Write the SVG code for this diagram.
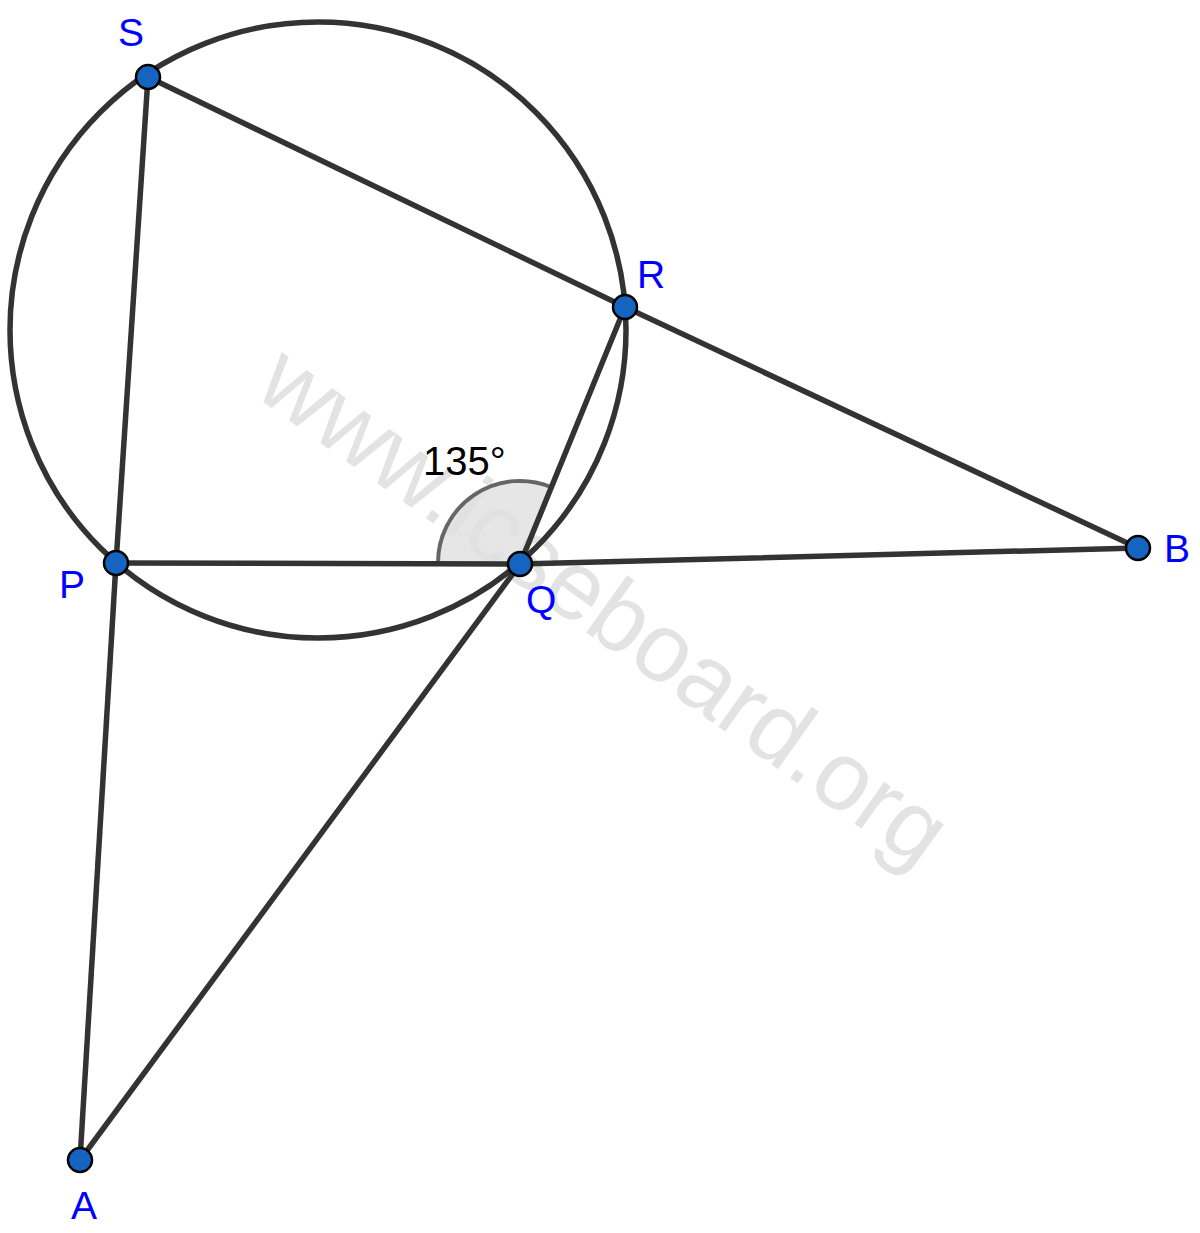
<svg xmlns="http://www.w3.org/2000/svg" width="1200" height="1233" viewBox="0 0 1200 1233">
<style>
.ln{stroke:#333;stroke-width:5.5;fill:none;stroke-linecap:round}
.pt{fill:#1565c0;stroke:#000;stroke-width:2.5}
.lb{font-family:"Liberation Sans",Arial,sans-serif;font-size:39px;fill:#0000ff}
.wm{font-family:"Liberation Sans",Arial,sans-serif;font-size:97px;fill:#e3e3e3}
</style>
<rect width="1200" height="1233" fill="#fff"/>
<text class="wm" transform="translate(252,394) rotate(35.5)">www.icseboard.org</text>
<g id="angle">
<path d="M520,563 L438,563 A82,82 0 0 1 551,487 Z" fill="#e0e0e0" fill-opacity="0.8" stroke="none"/>
<path d="M438,563 A82,82 0 0 1 551,487" fill="none" stroke="#666" stroke-width="4"/>
<text x="423" y="475" font-family="'Liberation Sans',Arial,sans-serif" font-size="40" fill="#000">135°</text>
</g>
<g id="connectors">
<circle class="ln" cx="318" cy="330" r="308"/>
<line class="ln" x1="148" y1="77" x2="625" y2="307"/>
<line class="ln" x1="625" y1="307" x2="1138" y2="548"/>
<line class="ln" x1="148" y1="77" x2="116" y2="563"/>
<line class="ln" x1="116" y1="563" x2="80" y2="1160"/>
<line class="ln" x1="116" y1="563" x2="520" y2="564"/>
<line class="ln" x1="520" y1="564" x2="1138" y2="548"/>
<line class="ln" x1="520" y1="564" x2="625" y2="307"/>
<line class="ln" x1="520" y1="564" x2="80" y2="1160"/>
</g>
<g id="S"><circle class="pt" cx="148" cy="77" r="12"/><text class="lb" x="118" y="46">S</text></g>
<g id="R"><circle class="pt" cx="625" cy="307" r="12"/><text class="lb" x="637" y="288">R</text></g>
<g id="P"><circle class="pt" cx="116" cy="563" r="12"/><text class="lb" x="59" y="598">P</text></g>
<g id="Q"><circle class="pt" cx="520" cy="564" r="12"/><text class="lb" x="526" y="613">Q</text></g>
<g id="B"><circle class="pt" cx="1138" cy="548" r="12"/><text class="lb" x="1164" y="562">B</text></g>
<g id="A"><circle class="pt" cx="80" cy="1160" r="12"/><text class="lb" x="71" y="1219">A</text></g>
</svg>
